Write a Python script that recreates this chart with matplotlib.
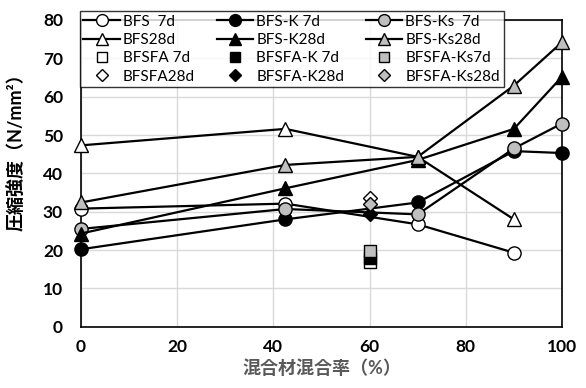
import matplotlib
matplotlib.use("Agg")
import matplotlib.pyplot as plt
from matplotlib.lines import Line2D

plt.rcParams['font.family'] = ['Lato', 'Noto Sans CJK JP', 'DejaVu Sans']

# ---- data ----
x_bfs = [0, 42.5, 70, 90]
x_full = [0, 42.5, 70, 90, 100]
x_fa = [60]

bfs_7d = [30.8, 32.1, 26.7, 19.3]
bfsk_7d = [20.2, 28.0, 32.4, 45.8, 45.3]
bfsks_7d = [25.5, 30.7, 29.3, 46.5, 53.0]
bfs_28d = [47.3, 51.6, 44.3, 28.0]
bfsk_28d = [24.3, 36.1, 43.5, 51.6, 65.2]
bfsks_28d = [32.4, 42.2, 44.3, 62.9, 74.2]

bfsfa_7d = [16.8]
bfsfak_7d = [17.9]
bfsfaks_7d = [19.7]
bfsfa_28d = [33.7]
bfsfak_28d = [29.4]
bfsfaks_28d = [32.1]

x_ticks = [0, 20, 40, 60, 80, 100]
y_ticks = [0, 10, 20, 30, 40, 50, 60, 70, 80]

GRAY = '#bfbfbf'

fig = plt.figure(figsize=(5.86, 3.88), dpi=100)
ax = fig.add_axes([81/586, 1-326.7/388, (562-81)/586, (326.7-20)/388])

lw = 1.6
ms = 9.5
series = [
    ('BFS  7d', x_bfs, bfs_7d, 'o', 'white', '-'),
    ('BFS-K 7d', x_full, bfsk_7d, 'o', 'black', '-'),
    ('BFS-Ks  7d', x_full, bfsks_7d, 'o', GRAY, '-'),
    ('BFS28d', x_bfs, bfs_28d, '^', 'white', '-'),
    ('BFS-K28d', x_full, bfsk_28d, '^', 'black', '-'),
    ('BFS-Ks28d', x_full, bfsks_28d, '^', GRAY, '-'),
    ('BFSFA 7d', x_fa, bfsfa_7d, 's', 'white', 'none'),
    ('BFSFA-K 7d', x_fa, bfsfak_7d, 's', 'black', 'none'),
    ('BFSFA-Ks7d', x_fa, bfsfaks_7d, 's', GRAY, 'none'),
    ('BFSFA28d', x_fa, bfsfa_28d, 'D', 'white', 'none'),
    ('BFSFA-K28d', x_fa, bfsfak_28d, 'D', 'black', 'none'),
    ('BFSFA-Ks28d', x_fa, bfsfaks_28d, 'D', GRAY, 'none'),
]

handles = {}
for name, xs, ys, m, fc, ls in series:
    size = ms if m in ('o', '^') else (8 if m == 's' else 7)
    h, = ax.plot(xs, ys, linestyle=ls, color='black', linewidth=lw,
                 marker=m, markersize=size, markerfacecolor=fc,
                 markeredgecolor='black', markeredgewidth=1.0,
                 label=name, clip_on=False, zorder=3)
    handles[name] = h

ax.set_xlim(0, 100)
ax.set_ylim(0, 80)
ax.set_xticks(x_ticks)
ax.set_yticks(y_ticks)
ax.grid(True, color='#d9d9d9', linewidth=1.0, zorder=0)
ax.set_axisbelow(True)
ax.tick_params(axis='both', length=0, labelsize=12.5)
ax.tick_params(axis='y', pad=13)
ax.tick_params(axis='x', pad=9)
for lab in ax.get_xticklabels() + ax.get_yticklabels():
    lab.set_fontweight('bold')
for sp in ax.spines.values():
    sp.set_color('black')
    sp.set_linewidth(1.2)

ax.set_xlabel('混合材混合率（%）', fontsize=13, fontweight='bold', color='#595959', labelpad=3)
ax.set_ylabel('圧縮強度（N/mm²）', fontsize=13, fontweight='bold', color='black')
ax.yaxis.set_label_coords(-0.117, 0.583)

order = ['BFS  7d', 'BFS28d', 'BFSFA 7d', 'BFSFA28d',
         'BFS-K 7d', 'BFS-K28d', 'BFSFA-K 7d', 'BFSFA-K28d',
         'BFS-Ks  7d', 'BFS-Ks28d', 'BFSFA-Ks7d', 'BFSFA-Ks28d']
leg_handles = []
for name in order:
    h = handles[name]
    m = h.get_marker()
    fc = h.get_markerfacecolor()
    ls = h.get_linestyle()
    size = 8.5 if m in ('o', '^') else (7 if m == 's' else 6)
    leg_handles.append(Line2D([], [], linestyle=ls, color='black', linewidth=lw,
                              marker=m, markersize=size, markerfacecolor=fc,
                              markeredgecolor='black', markeredgewidth=1.0))
leg = fig.legend(leg_handles, order, ncol=3, loc='upper left',
                 bbox_to_anchor=(79.5/586, 1-11/388), fontsize=11,
                 frameon=True, fancybox=False, edgecolor='black',
                 handlelength=2.4, handletextpad=0.2, columnspacing=1.4,
                 labelspacing=0.28, borderpad=0.25, borderaxespad=0)
leg.get_frame().set_linewidth(1.0)
leg.set_zorder(10)

fig.savefig('out.png', dpi=100)
